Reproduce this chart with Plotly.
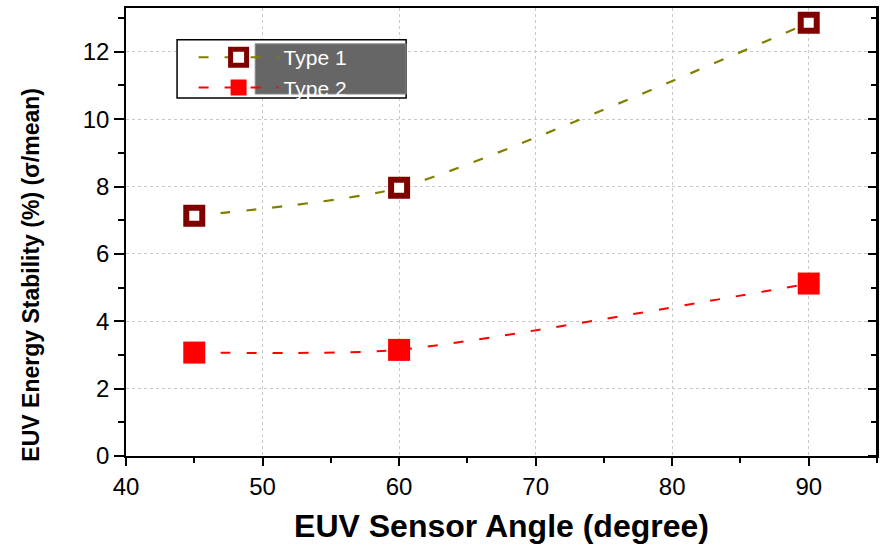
import plotly.graph_objects as go

# Sensor angle (degree) and energy stability (% sigma/mean)
angles = [45, 60, 90]
type1_stability = [7.13, 7.96, 12.86]
type2_stability = [3.07, 3.15, 5.12]
series_names = ["Type 1", "Type 2"]

x_ticks = [40, 50, 60, 70, 80, 90]
y_ticks = [0, 2, 4, 6, 8, 10, 12]
y_range = [0, 13.3]

FONT = "Liberation Sans, Arial, sans-serif"
GRID = "#c8c8c8"

fig = go.Figure()

fig.add_trace(go.Scatter(
    x=angles, y=type1_stability, name=series_names[0],
    mode="lines+markers",
    line=dict(color="#808000", width=2.2, dash="10px,16px", shape="spline", smoothing=0.6),
    marker=dict(symbol="square", size=16, color="white",
                line=dict(color="#800000", width=6)),
))
# second series sits on the right-hand frame axis, which shares the same fixed range
fig.add_trace(go.Scatter(
    x=angles, y=type2_stability, name=series_names[1], yaxis="y2",
    mode="lines+markers",
    line=dict(color="#ff0000", width=2, dash="10px,16px", shape="spline", smoothing=0.6),
    marker=dict(symbol="square", size=22, color="#ff0000",
                line=dict(color="#ff0000", width=0)),
))

# Legend frame and the dark label panel behind the legend text
fig.add_shape(type="rect", xref="paper", yref="paper",
              x0=0.068, x1=0.373, y0=0.799, y1=0.929,
              fillcolor="white", line=dict(color="black", width=1.5), layer="above")
fig.add_shape(type="rect", xref="paper", yref="paper",
              x0=0.172, x1=0.373, y0=0.808, y1=0.920,
              fillcolor="#666666", line=dict(color="#8a8a8a", width=1), layer="above")

tick_font = dict(family=FONT, size=24, color="black")

fig.update_layout(
    width=882, height=547,
    margin=dict(l=126, r=3, t=8, b=91),
    paper_bgcolor="white", plot_bgcolor="white",
    showlegend=True,
    xaxis=dict(
        range=[40, 95], tickvals=x_ticks,
        showline=True, linecolor="black", linewidth=1.5, mirror=True,
        ticks="outside", ticklen=8, tickwidth=1.5, tickcolor="black",
        showgrid=True, gridcolor=GRID, griddash="dot", gridwidth=1,
        zeroline=False, tickfont=tick_font,
        title=dict(text="<b>EUV Sensor Angle (degree)</b>",
                   font=dict(family=FONT, size=32, color="black"), standoff=16),
        minor=dict(dtick=5, ticks="outside", ticklen=5, tickwidth=1.5,
                   tickcolor="black", showgrid=False),
    ),
    yaxis=dict(
        range=y_range, tickvals=y_ticks,
        showline=True, linecolor="black", linewidth=1.5, mirror=True,
        ticks="outside", ticklen=10, tickwidth=1.5, tickcolor="black",
        showgrid=True, gridcolor=GRID, griddash="dot", gridwidth=1,
        zeroline=False, tickfont=tick_font,
        minor=dict(dtick=1, ticks="outside", ticklen=6, tickwidth=1.5,
                   tickcolor="black", showgrid=False),
    ),
    # frame axis on the right edge, ticks pointing into the plot
    yaxis2=dict(overlaying="y", anchor="free", position=1.0, side="left",
                range=y_range, tickvals=y_ticks, showticklabels=False,
                showgrid=False, zeroline=False,
                showline=True, linecolor="black", linewidth=2,
                ticks="outside", ticklen=8, tickwidth=1.5, tickcolor="black",
                minor=dict(dtick=1, ticks="outside", ticklen=5, tickwidth=1.5,
                           tickcolor="black")),
    legend=dict(x=0.09, y=0.935, xanchor="left", yanchor="top",
                bgcolor="rgba(0,0,0,0)", borderwidth=0,
                font=dict(family=FONT, size=21, color="white"),
                tracegroupgap=0, itemwidth=80),
)

# y-axis title placed as a rotated annotation
fig.add_annotation(
    text="<b>EUV Energy Stability (%) (σ/mean)</b>",
    xref="paper", yref="paper", x=-0.127, y=0.404,
    xanchor="center", yanchor="middle", textangle=-90, showarrow=False,
    font=dict(family=FONT, size=23, color="black"),
)

fig.write_html("out.html")
